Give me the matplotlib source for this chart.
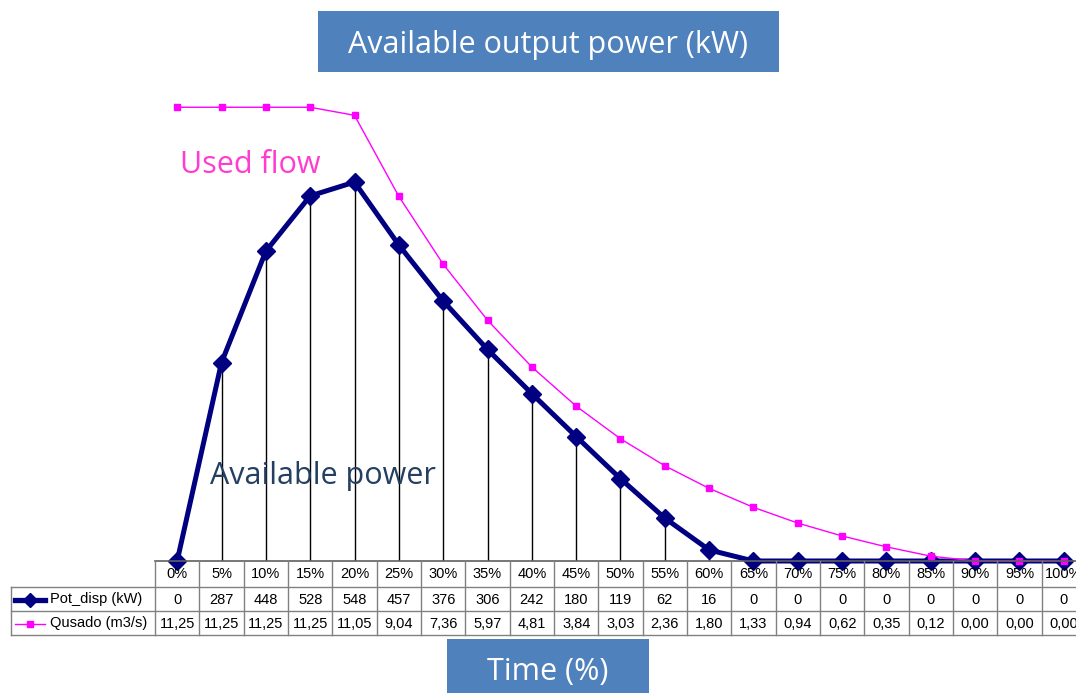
import matplotlib
matplotlib.use("Agg")
import matplotlib.pyplot as plt
from matplotlib.patches import Rectangle
from matplotlib.lines import Line2D
from matplotlib.transforms import blended_transform_factory

# ---- data ----
categories = ['0%', '5%', '10%', '15%', '20%', '25%', '30%', '35%', '40%', '45%', '50%',
              '55%', '60%', '65%', '70%', '75%', '80%', '85%', '90%', '95%', '100%']
pot_disp = [0, 287, 448, 528, 548, 457, 376, 306, 242, 180, 119,
            62, 16, 0, 0, 0, 0, 0, 0, 0, 0]
qusado = [11.25, 11.25, 11.25, 11.25, 11.05, 9.04, 7.36, 5.97, 4.81, 3.84, 3.03,
          2.36, 1.80, 1.33, 0.94, 0.62, 0.35, 0.12, 0.00, 0.00, 0.00]
series_names = ['Pot_disp (kW)', 'Qusado (m3/s)']

W, H = 1076, 693
NAVY = '#000080'
MAGENTA = '#FF00FF'
BOX = '#4F81BD'
GRID = '#808080'
UI_FONT = ['Open Sans', 'DejaVu Sans']
TABLE_FONT = ['Liberation Sans', 'DejaVu Sans']

fig = plt.figure(figsize=(W / 100, H / 100), dpi=100)
fig.patch.set_facecolor('white')


def fx(px):
    return px / W


def fy(py):
    return 1 - py / H


# plot area (extends slightly past the right edge of the canvas)
left, right, top, bottom = 155, 1086, 77, 561
ax = fig.add_axes([fx(left), fy(bottom), fx(right - left), (bottom - top) / H])
ax2 = ax.twinx()

x = list(range(len(categories)))
ax.set_xlim(-0.5, len(categories) - 0.5)
ax.set_ylim(0, 700)
ax2.set_ylim(0, 12)

for a in (ax, ax2):
    for s in a.spines.values():
        s.set_visible(False)
    a.set_xticks([])
    a.set_yticks([])
    a.patch.set_visible(False)

# drop lines from the power series to the category axis
ax.vlines(x, 0, pot_disp, colors='black', linewidth=1.0, zorder=1)
ax.plot(x, pot_disp, color=NAVY, linewidth=3.6, marker='D', markersize=9,
        markerfacecolor=NAVY, markeredgecolor=NAVY, zorder=3, clip_on=False)
ax2.plot(x, qusado, color=MAGENTA, linewidth=1.0, marker='s', markersize=4.5,
         markerfacecolor=MAGENTA, markeredgecolor=MAGENTA, zorder=3, clip_on=False)

# ---- data table below the plot ----
blend = blended_transform_factory(ax.transData, fig.transFigure)
row_y = [561, 587, 611, 635]
label_left_px = 11
n = len(categories)

# horizontal rules
fig.add_artist(Line2D([fx(left), fx(right)], [fy(row_y[0])] * 2, transform=fig.transFigure,
                      color='#606060', linewidth=1.2))
for yy in row_y[1:]:
    fig.add_artist(Line2D([fx(label_left_px), fx(right)], [fy(yy)] * 2,
                          transform=fig.transFigure, color=GRID, linewidth=1.0))
# vertical rules
fig.add_artist(Line2D([fx(label_left_px)] * 2, [fy(row_y[1]), fy(row_y[3])],
                      transform=fig.transFigure, color=GRID, linewidth=1.0))
for i in range(n + 1):
    fig.add_artist(Line2D([i - 0.5, i - 0.5], [fy(row_y[0]), fy(row_y[3])], transform=blend,
                          color=GRID, linewidth=1.0))

pot_labels = [f"{v:d}" for v in pot_disp]
q_labels = [f"{v:.2f}".replace('.', ',') for v in qusado]
rows = [categories, pot_labels, q_labels]
for r, vals in enumerate(rows):
    yc = fy((row_y[r] + row_y[r + 1]) / 2 + 0.5)
    for i, s in enumerate(vals):
        fig.text(i, yc, s, transform=blend, ha='center', va='center',
                 fontsize=10.5, family=TABLE_FONT, color='black')

# row headers with legend keys
for r, (name, col, mk, lw, ms) in enumerate([
        (series_names[0], NAVY, 'D', 3.8, 7),
        (series_names[1], MAGENTA, 's', 1.0, 4)]):
    yc = (row_y[r + 1] + row_y[r + 2]) / 2 + 0.5
    fig.add_artist(Line2D([fx(15), fx(45)], [fy(yc)] * 2, transform=fig.transFigure,
                          color=col, linewidth=lw))
    fig.add_artist(Line2D([fx(30)], [fy(yc)], transform=fig.transFigure, color=col,
                          marker=mk, markersize=ms, markerfacecolor=col, markeredgecolor=col,
                          linestyle='none'))
    fig.text(fx(50), fy(yc), name, ha='left', va='center', fontsize=10.5,
             family=TABLE_FONT, color='black')

# ---- title and axis caption boxes ----
fig.add_artist(Rectangle((fx(318), fy(72)), fx(779 - 318), (72 - 11) / H,
                         transform=fig.transFigure, facecolor=BOX, edgecolor='none'))
fig.text(fx(548.5), fy(45), 'Available output power (kW)', ha='center', va='center',
         fontsize=22, family=UI_FONT, color='white')

fig.add_artist(Rectangle((fx(447), fy(700)), fx(649 - 447), (700 - 639) / H,
                         transform=fig.transFigure, facecolor=BOX, edgecolor='none'))
fig.text(fx(548), fy(672), 'Time (%)', ha='center', va='center',
         fontsize=22, family=UI_FONT, color='white')

# ---- series annotations ----
fig.text(fx(180), fy(165), 'Used flow', ha='left', va='center',
         fontsize=22, family=UI_FONT, color='#FF3CCF')
fig.text(fx(210), fy(476), 'Available power', ha='left', va='center',
         fontsize=22, family=UI_FONT, color='#243F60')

fig.savefig('out.png', dpi=100, facecolor='white')
